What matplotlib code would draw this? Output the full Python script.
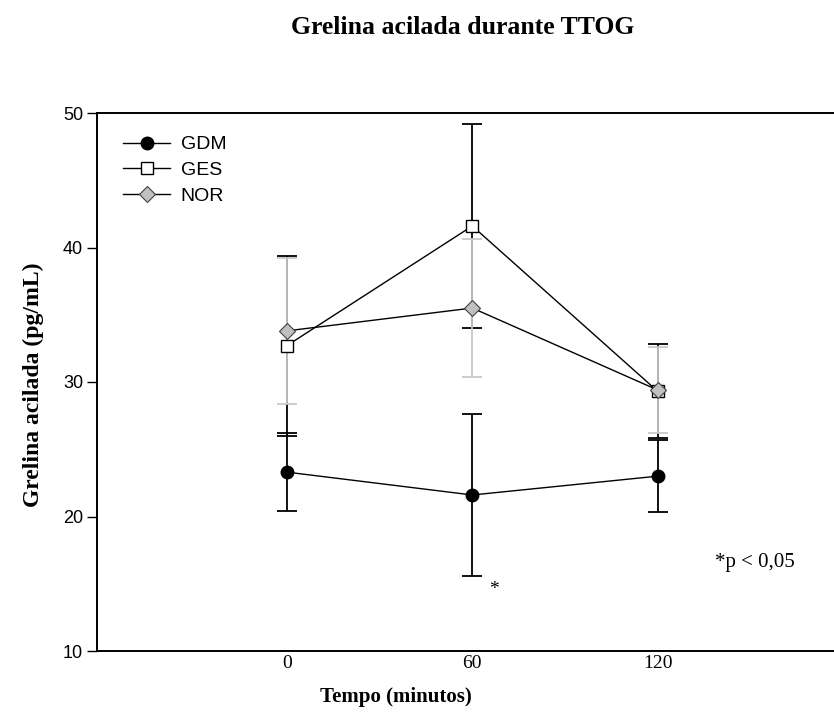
import numpy as np
import matplotlib
matplotlib.use("Agg")
import matplotlib.pyplot as plt

# Ghrelin (acylated) during OGTT, mean +/- error
tempo = np.array([0, 60, 120])
tick_labels = ['0', '60', '120']

gdm = np.array([23.3, 21.6, 23.0])
gdm_err = np.array([2.9, 6.0, 2.7])

ges = np.array([32.7, 41.6, 29.3])
ges_err = np.array([6.7, 7.6, 3.5])

nor = np.array([33.8, 35.5, 29.4])
nor_err = np.array([5.4, 5.1, 3.2])

serif = ['Liberation Serif', 'DejaVu Serif']
sans = ['Liberation Sans', 'DejaVu Sans']

fig = plt.figure(figsize=(8.34, 7.22), dpi=100)
ax = fig.add_axes([97 / 834, 1 - 651 / 722, 737 / 834, 538 / 722])

# error bars first (GES, then NOR in light gray, then GDM)
ax.errorbar(tempo, ges, yerr=ges_err, fmt='none', ecolor='black', elinewidth=1.3,
            capsize=7, capthick=1.3, zorder=2)
ax.errorbar(tempo, nor, yerr=nor_err, fmt='none', ecolor='#c8c8c8', elinewidth=1.3,
            capsize=7, capthick=1.3, zorder=2.5)
ax.errorbar(tempo, gdm, yerr=gdm_err, fmt='none', ecolor='black', elinewidth=1.3,
            capsize=7, capthick=1.3, zorder=2)

# lines with markers
ax.plot(tempo, gdm, '-', color='black', lw=1.0, marker='o', ms=9,
        mfc='black', mec='black', zorder=4, label='GDM')
ax.plot(tempo, ges, '-', color='black', lw=1.0, marker='s', ms=9,
        mfc='white', mec='black', mew=1.0, zorder=4, label='GES')
ax.plot(tempo, nor, '-', color='black', lw=1.0, marker='D', ms=8,
        mfc='#c0c0c0', mec='#404040', mew=0.8, zorder=4.5, label='NOR')

ax.set_xlim(-61.4, 177)
ax.set_ylim(10, 50)
ax.set_yticks([10, 20, 30, 40, 50])
ax.set_xticks(tempo)
ax.set_xticklabels(tick_labels, family=serif, fontsize=14)
for lab in ax.get_yticklabels():
    lab.set_family(sans)
    lab.set_fontsize(13)

ax.tick_params(axis='x', length=0, pad=3)
ax.tick_params(axis='y', length=7, width=1.0, direction='out', pad=3)

for s in ['top', 'left', 'bottom']:
    ax.spines[s].set_linewidth(1.4)
ax.spines['right'].set_visible(False)

# significance marks
ax.text(60 + 7, 14.6, '*', family=serif, fontsize=14, ha='center', va='center')
ax.text(138.4, 16.6, '*p < 0,05', family=serif, fontsize=15, ha='left', va='center')

leg = ax.legend(loc='upper left', frameon=False, prop={'family': sans, 'size': 14},
                handlelength=2.4, handletextpad=0.55, labelspacing=0.42,
                bbox_to_anchor=(0.012, 0.99))

fig.text(463 / 834, 1 - 28 / 722, 'Grelina acilada durante TTOG', family=serif,
         fontsize=18.5, fontweight='bold', ha='center', va='center')
fig.text(396 / 834, 1 - 697 / 722, 'Tempo (minutos)', family=serif,
         fontsize=15, fontweight='bold', ha='center', va='center')
fig.text(33 / 834, 1 - 385 / 722, 'Grelina acilada (pg/mL)', family=serif,
         fontsize=17, fontweight='bold', ha='center', va='center', rotation=90)

fig.savefig('out.png', dpi=100)
